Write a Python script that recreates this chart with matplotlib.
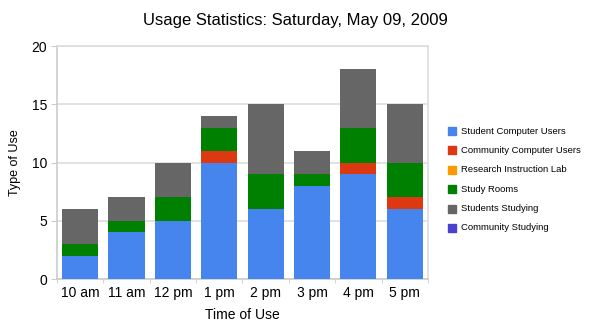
import numpy as np
import matplotlib.pyplot as plt
from matplotlib.patches import Rectangle

plt.rcParams["font.family"] = ["Liberation Sans", "DejaVu Sans"]

times = ["10 am", "11 am", "12 pm", "1 pm", "2 pm", "3 pm", "4 pm", "5 pm"]
student_computer = [2, 4, 5, 10, 6, 8, 9, 6]
community_computer = [0, 0, 0, 1, 0, 0, 1, 1]
research_lab = [0, 0, 0, 0, 0, 0, 0, 0]
study_rooms = [1, 1, 2, 2, 3, 1, 3, 3]
students_studying = [3, 2, 3, 1, 6, 2, 5, 5]
community_studying = [0, 0, 0, 0, 0, 0, 0, 0]

series = [
    ("Student Computer Users", student_computer, "#4684ee"),
    ("Community Computer Users", community_computer, "#dc3912"),
    ("Research Instruction Lab", research_lab, "#ff9900"),
    ("Study Rooms", study_rooms, "#008000"),
    ("Students Studying", students_studying, "#666666"),
    ("Community Studying", community_studying, "#4942cc"),
]

fig = plt.figure(figsize=(5.91, 3.32), dpi=100)
ax = fig.add_axes([0.0964, 0.1596, 0.6276, 0.7018])

x = np.arange(len(times))
bottom = np.zeros(len(times))
handles = []
for name, vals, color in series:
    vals = np.array(vals, dtype=float)
    ax.bar(x, vals, width=0.78, bottom=bottom, color=color, zorder=3)
    bottom += vals
    handles.append((name, color))

ax.set_xlim(-0.5, len(times) - 0.5)
ax.set_ylim(0, 20)
ax.set_yticks([0, 5, 10, 15, 20])
ax.set_xticks(x)
ax.set_xticklabels(times)
ax.set_xticks(np.arange(len(times) + 1) - 0.5, minor=True)
ax.tick_params(axis="x", which="major", length=0, labelsize=10, pad=5)
ax.tick_params(axis="x", which="minor", length=3, color="#cccccc")
ax.tick_params(axis="y", length=4, color="#cccccc", labelsize=10, pad=3)
ax.grid(axis="y", color="#dddddd", linewidth=1.2, zorder=0)
for s in ax.spines.values():
    s.set_color("#dddddd")
    s.set_linewidth(1.2)
ax.spines["left"].set_color("#cccccc")
ax.spines["bottom"].set_color("#cccccc")

ax.set_xlabel("Time of Use", fontsize=10, labelpad=6)
ax.set_ylabel("Type of Use", fontsize=9, labelpad=8)
fig.suptitle("Usage Statistics: Saturday, May 09, 2009", fontsize=12, y=0.96)

# legend drawn as boxes with labels on the right side
for i, (name, color) in enumerate(handles):
    yy = 1 - (131 + i * 19.4) / 332
    fig.patches.append(Rectangle((448 / 591, yy - 4 / 332), 8 / 591, 8 / 332,
                                 transform=fig.transFigure, color=color))
    fig.text(461 / 591, yy, name, fontsize=6.8, va="center", ha="left")

fig.savefig("out.png", dpi=100)
